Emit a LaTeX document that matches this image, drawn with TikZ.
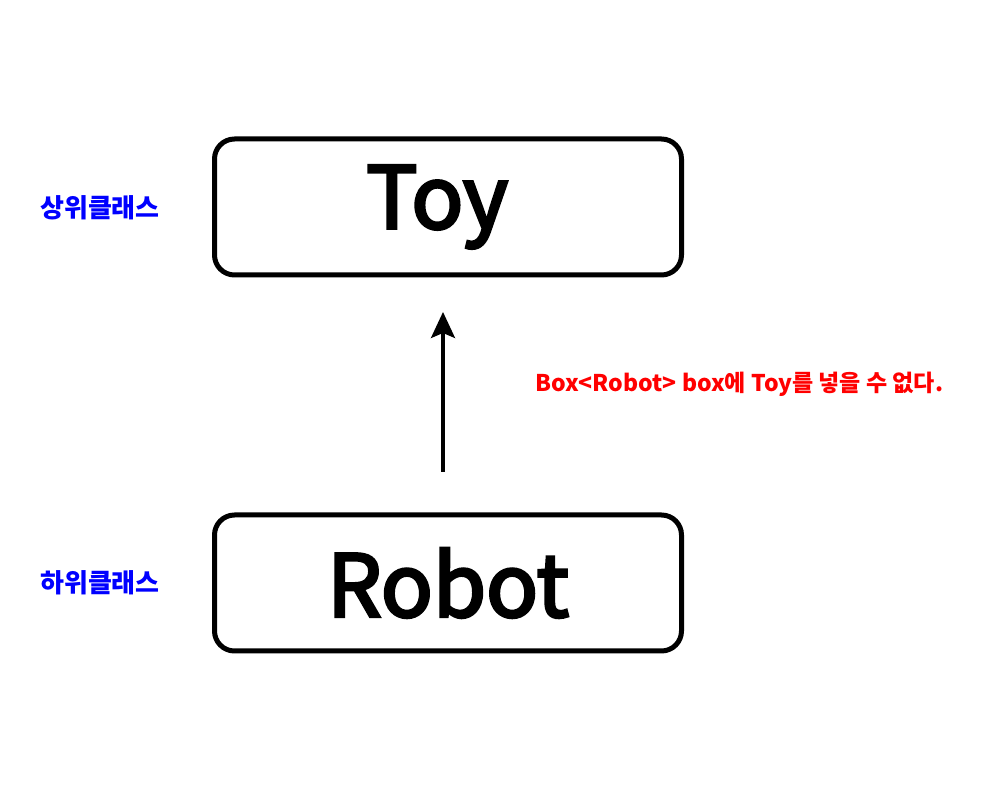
\documentclass[tikz,border=0pt]{standalone}
\usepackage{fontspec}
\setmainfont{Noto Sans CJK KR}
\newfontfamily\medfont{Noto Sans CJK KR}[FakeBold=3.5]
\usetikzlibrary{arrows.meta}
\begin{document}
\begin{tikzpicture}[x=1pt,y=1pt,
  classbox/.style={draw=black,line width=5pt,rounded corners=20pt,minimum width=467pt,minimum height=136pt,outer sep=0pt,inner sep=0pt,font=\fontsize{86}{96}\medfont},
  sidelabel/.style={text=blue,font=\fontsize{26}{30}\selectfont\bfseries,anchor=west,inner sep=0pt},
  note/.style={text=red,font=\fontsize{23}{26}\selectfont\bfseries,anchor=base west,inner sep=0pt},
  arrowline/.style={line width=3.2pt,-{Stealth[length=26pt,width=24pt,inset=5pt]}}]
\useasboundingbox (0,0) rectangle (1000,800);
\node[classbox] (toy) at (448,593) {Toy\kern22pt};
\node[classbox] (robot) at (448,217) {Robot};
\node[sidelabel] (sup) at (40,592) {상위클래스};
\node[sidelabel] (sub) at (40,217) {하위클래스};
\node[note] (msg) at (535,408) {Box<Robot> box에 Toy를 넣을 수 없다.};
\coordinate (tail) at (443,328);
\draw[arrowline] (tail) -- ([yshift=-37pt]tail |- toy.south);
\end{tikzpicture}
\end{document}
